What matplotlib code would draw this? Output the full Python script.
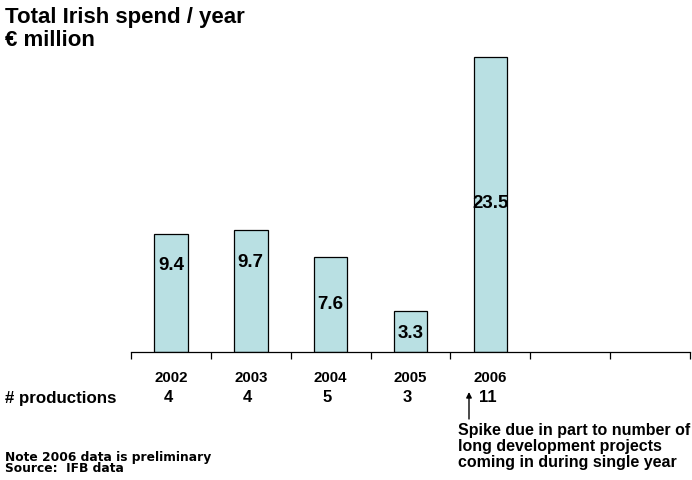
import matplotlib
matplotlib.use("Agg")
import matplotlib.pyplot as plt

years = ["2002", "2003", "2004", "2005", "2006", "", ""]
spend = [9.4, 9.7, 7.6, 3.3, 23.5]
productions = ["4", "4", "5", "3", "11"]
value_labels = ["9.4", "9.7", "7.6", "3.3", "23.5"]
label_y = [6.85, 7.15, 3.75, 1.5, 11.8]

plt.rcParams['font.family'] = ['Liberation Sans', 'DejaVu Sans']

W, H = 692, 480
fig = plt.figure(figsize=(6.92, 4.8), dpi=100)
ax = fig.add_axes([131/W, 128/H, (690-131)/W, (352-38)/H])

def ftext(x, y, s, **kw):
    fig.text(x/W, 1 - y/H, s, va='center', **kw)

n_cat = len(years)
xs = list(range(len(spend)))
ax.bar(xs, spend, width=0.42, color='#b9e0e3', edgecolor='black', linewidth=0.9)
for x, lab, y in zip(xs, value_labels, label_y):
    ax.text(x, y, lab, ha='center', va='center', fontsize=13.5, fontweight='bold')

ax.set_xlim(-0.5, n_cat - 0.5)
ax.set_ylim(0, 25)
for s in ['top', 'right', 'left']:
    ax.spines[s].set_visible(False)
ax.spines['bottom'].set_linewidth(0.9)
ax.set_yticks([])
ax.set_xticks([i - 0.5 for i in range(n_cat + 1)])
ax.set_xticklabels([])
ax.tick_params(axis='x', direction='out', length=5, width=0.9)

for i, y in enumerate(years):
    if y:
        ax.annotate(y, xy=(i, 0), xycoords=('data', 'axes fraction'),
                    xytext=(0, -26), textcoords='offset pixels',
                    ha='center', va='center', fontsize=10.8, fontweight='bold')

ftext(5, 398, "# productions", ha='left', fontsize=12.2, fontweight='bold')
for i, p in enumerate(productions):
    ax.annotate(p, xy=(i, 0), xycoords=('data', 'axes fraction'),
                xytext=(-3, -46), textcoords='offset pixels',
                ha='center', va='center', fontsize=12, fontweight='bold')

fig.add_artist(matplotlib.patches.FancyArrowPatch(
    (469/W, 1 - 419/H), (469/W, 1 - 392/H), transform=fig.transFigure,
    arrowstyle='-|>', mutation_scale=8, color='black', linewidth=1.0,
    shrinkA=0, shrinkB=0))

for k, line in enumerate(["Spike due in part to number of",
                          "long development projects",
                          "coming in during single year"]):
    ftext(458, 430 + 16*k, line, ha='left', fontsize=11.5, fontweight='bold')

ftext(5, 18, "Total Irish spend / year", ha='left', fontsize=16, fontweight='bold')
ftext(5, 41, "€ million", ha='left', fontsize=16, fontweight='bold')

ftext(5, 457, "Note 2006 data is preliminary", ha='left', fontsize=8.8,
      fontweight='bold', family='DejaVu Sans')
ftext(5, 469, "Source:  IFB data", ha='left', fontsize=8.8,
      fontweight='bold', family='DejaVu Sans')

fig.savefig("out.png", dpi=100)
